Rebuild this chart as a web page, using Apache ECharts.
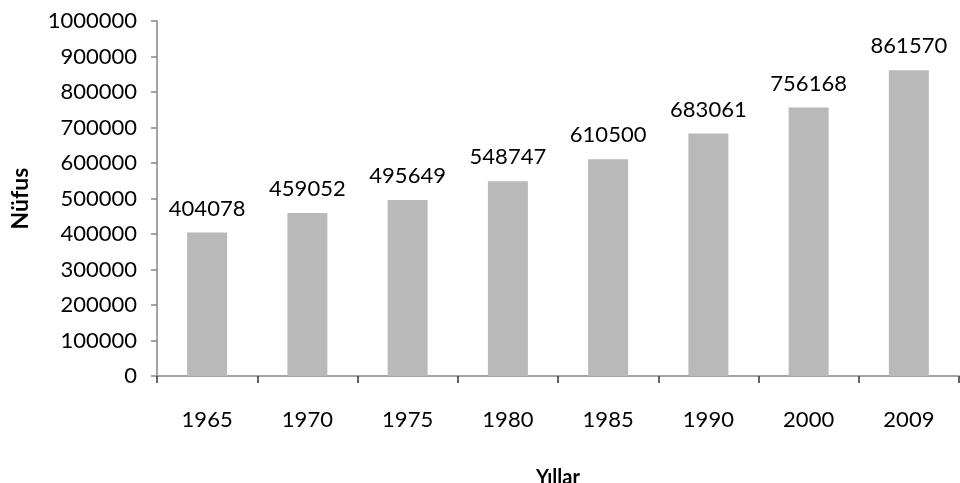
<!DOCTYPE html>
<html>
<head>
<meta charset="utf-8">
<script src="https://cdn.jsdelivr.net/npm/echarts@6/dist/echarts.min.js"></script>
<style>
  html, body { margin: 0; padding: 0; background: #ffffff; }
  #chart { width: 960px; height: 483px; }
</style>
</head>
<body>
<div id="chart"></div>
<script>
// Population by census year
const years = ['1965', '1970', '1975', '1980', '1985', '1990', '2000', '2009'];
const population = [404078, 459052, 495649, 548747, 610500, 683061, 756168, 861570];
const yTicks = [0, 100000, 200000, 300000, 400000, 500000, 600000, 700000, 800000, 900000, 1000000];

const FONT = 'Lato, "Open Sans", sans-serif';
const AXIS_COLOR = '#868686';

const chart = echarts.init(document.getElementById('chart'), null, { renderer: 'canvas' });

chart.setOption({
  animation: false,
  backgroundColor: '#ffffff',
  grid: { left: 157, right: 1, top: 21, bottom: 107, containLabel: false, outerBoundsMode: 'none' },
  xAxis: {
    type: 'category',
    data: years,
    name: 'Yıllar',
    nameLocation: 'middle',
    nameGap: 92,
    nameTextStyle: { fontFamily: FONT, fontSize: 20, fontWeight: 'bold', color: '#000' },
    axisLine: { lineStyle: { color: AXIS_COLOR, width: 1.5 } },
    axisTick: { show: true, alignWithLabel: false, length: 7, lineStyle: { color: '#333', width: 1.5 } },
    axisLabel: { fontFamily: FONT, fontSize: 22, color: '#000', margin: 33 },
    splitLine: { show: false }
  },
  yAxis: {
    type: 'value',
    min: yTicks[0],
    max: yTicks[yTicks.length - 1],
    interval: yTicks[1] - yTicks[0],
    name: 'Nüfus',
    nameLocation: 'middle',
    nameGap: 125,
    nameRotate: 90,
    nameTextStyle: { fontFamily: FONT, fontSize: 23, fontWeight: 'bold', color: '#000' },
    axisLine: { show: true, lineStyle: { color: AXIS_COLOR, width: 1.5 } },
    axisTick: { show: true, length: 6, lineStyle: { color: AXIS_COLOR, width: 1.5 } },
    axisLabel: { fontFamily: FONT, fontSize: 22, color: '#000', margin: 20, formatter: v => String(v) },
    splitLine: { show: false }
  },
  series: [{
    type: 'bar',
    data: population,
    barWidth: 40,
    itemStyle: { color: '#b9b9b9' },
    label: {
      show: true,
      position: 'top',
      distance: 13,
      fontFamily: FONT,
      fontSize: 22,
      color: '#000'
    }
  }]
});
</script>
</body>
</html>
